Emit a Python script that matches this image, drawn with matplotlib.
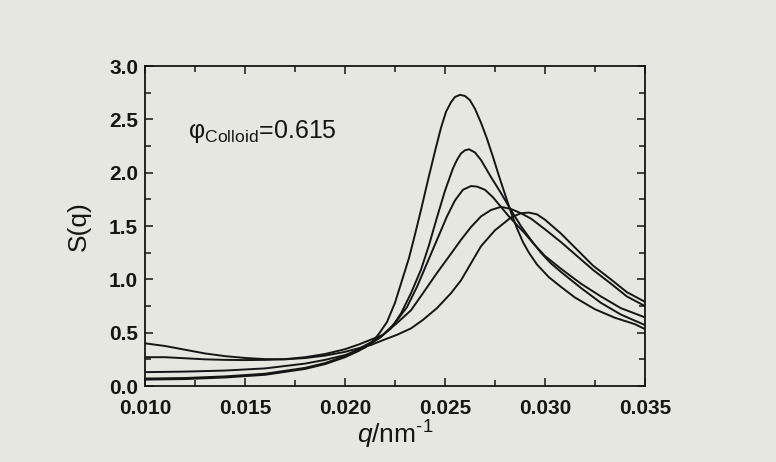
import matplotlib
matplotlib.use('Agg')
import matplotlib.pyplot as plt
from matplotlib.ticker import MultipleLocator

plt.rcParams['font.family'] = ['Liberation Sans', 'DejaVu Sans']
plt.rcParams['mathtext.fontset'] = 'custom'
plt.rcParams['mathtext.rm'] = 'Liberation Sans'
plt.rcParams['mathtext.it'] = 'Liberation Sans:italic'

# curves (q in nm^-1, S(q))
q_a = [0.0100, 0.0120, 0.0140, 0.0160, 0.0180, 0.0190, 0.0200, 0.0207, 0.0213, 0.0217,
       0.0221, 0.0225, 0.0228, 0.0232, 0.0235, 0.0238, 0.02415, 0.0245, 0.0248, 0.02505,
       0.0253, 0.0255, 0.02575, 0.0260, 0.02625, 0.0265, 0.0268, 0.0271, 0.0274, 0.0277,
       0.0280, 0.0283, 0.0286, 0.0289, 0.0292, 0.0296, 0.0302, 0.0308, 0.0315, 0.0325,
       0.0335, 0.0345, 0.0350]
s_a = [0.06, 0.065, 0.08, 0.105, 0.16, 0.205, 0.27, 0.33, 0.40, 0.49,
       0.60, 0.78, 0.96, 1.20, 1.42, 1.65, 1.93, 2.20, 2.42, 2.57,
       2.66, 2.71, 2.73, 2.72, 2.68, 2.60, 2.47, 2.32, 2.15, 1.97,
       1.80, 1.63, 1.48, 1.35, 1.25, 1.14, 1.02, 0.93, 0.83, 0.72,
       0.64, 0.58, 0.534]

q_b = [0.0100, 0.0120, 0.0140, 0.0160, 0.0180, 0.0190, 0.0200, 0.0208, 0.0217, 0.0223,
       0.0228, 0.0233, 0.0238, 0.0242, 0.0246, 0.0250, 0.0254, 0.0256, 0.0258, 0.0260,
       0.0262, 0.0265, 0.0268, 0.0273, 0.0278, 0.0283, 0.0288, 0.0293, 0.0298, 0.0303,
       0.0308, 0.0318, 0.0328, 0.0338, 0.0350]
s_b = [0.07, 0.075, 0.09, 0.115, 0.17, 0.215, 0.28, 0.36, 0.45, 0.54,
       0.68, 0.87, 1.09, 1.32, 1.58, 1.83, 2.04, 2.12, 2.18, 2.21,
       2.22, 2.19, 2.12, 1.96, 1.81, 1.65, 1.50, 1.37, 1.25, 1.15,
       1.07, 0.92, 0.78, 0.67, 0.572]

q_c = [0.0100, 0.0120, 0.0140, 0.0160, 0.0180, 0.0190, 0.0200, 0.0210, 0.0218, 0.0225,
       0.0231, 0.0236, 0.0241, 0.0246, 0.0251, 0.0255, 0.0259, 0.0263, 0.0266, 0.0270,
       0.0274, 0.0278, 0.0282, 0.0286, 0.0290, 0.0295, 0.0300, 0.0308, 0.0318, 0.0328,
       0.0338, 0.0350]
s_c = [0.13, 0.135, 0.145, 0.165, 0.21, 0.245, 0.29, 0.36, 0.46, 0.59,
       0.74, 0.93, 1.15, 1.37, 1.59, 1.74, 1.84, 1.875, 1.87, 1.84,
       1.77, 1.68, 1.59, 1.51, 1.43, 1.32, 1.22, 1.10, 0.96, 0.84,
       0.73, 0.644]

q_d = [0.0100, 0.0110, 0.0120, 0.0130, 0.0140, 0.0150, 0.0160, 0.0170, 0.0180, 0.0190,
       0.0200, 0.0207, 0.0219, 0.0226, 0.0233, 0.0239, 0.0246, 0.0253, 0.0258, 0.0263,
       0.0268, 0.0273, 0.0278, 0.0283, 0.0288, 0.0293, 0.0300, 0.0308, 0.0316, 0.0324,
       0.0333, 0.0341, 0.0350]
s_d = [0.27, 0.27, 0.26, 0.25, 0.245, 0.243, 0.245, 0.252, 0.27, 0.30,
       0.345, 0.39, 0.48, 0.59, 0.71, 0.87, 1.06, 1.24, 1.37, 1.49,
       1.59, 1.65, 1.68, 1.66, 1.62, 1.57, 1.47, 1.35, 1.22, 1.09,
       0.96, 0.84, 0.75]

q_e = [0.0100, 0.0110, 0.0120, 0.0130, 0.0140, 0.0150, 0.0160, 0.0170, 0.0180, 0.0190,
       0.0200, 0.0213, 0.0219, 0.0226, 0.0233, 0.0239, 0.0246, 0.0253, 0.0258, 0.0263,
       0.0268, 0.0275, 0.0283, 0.0288, 0.0292, 0.0296, 0.0300, 0.0308, 0.0316, 0.0324,
       0.0333, 0.0341, 0.0350]
s_e = [0.40, 0.375, 0.34, 0.305, 0.28, 0.263, 0.252, 0.25, 0.262, 0.285,
       0.32, 0.385, 0.43, 0.48, 0.54, 0.62, 0.73, 0.87, 0.99, 1.15,
       1.31, 1.46, 1.58, 1.62, 1.626, 1.61, 1.56, 1.43, 1.28, 1.13,
       1.00, 0.88, 0.79]

bg = '#e7e7e1'
fig = plt.figure(figsize=(7.76, 4.62), dpi=100, facecolor=bg)
ax = fig.add_axes([0.187, 0.1645, 0.644, 0.6925], facecolor=bg)

for q, s in [(q_a, s_a), (q_b, s_b), (q_c, s_c), (q_d, s_d), (q_e, s_e)]:
    ax.plot(q, s, color='#151515', lw=1.4)

ax.set_xlim(0.010, 0.035)
ax.set_ylim(0.0, 3.0)
ax.xaxis.set_major_locator(MultipleLocator(0.005))
ax.xaxis.set_minor_locator(MultipleLocator(0.0025))
ax.yaxis.set_major_locator(MultipleLocator(0.5))
ax.yaxis.set_minor_locator(MultipleLocator(0.25))
ax.xaxis.set_major_formatter(plt.FormatStrFormatter('%.3f'))
ax.yaxis.set_major_formatter(plt.FormatStrFormatter('%.1f'))

ax.tick_params(which='both', direction='in', top=True, right=True, width=1.1, color='#151515')
ax.tick_params(which='major', length=6)
ax.tick_params(which='minor', length=4)
ax.tick_params(axis='x', pad=9)
ax.tick_params(axis='y', pad=5)
for lbl in ax.get_xticklabels() + ax.get_yticklabels():
    lbl.set_fontsize(15)
    lbl.set_fontweight('bold')
    lbl.set_color('#151515')
for sp in ax.spines.values():
    sp.set_linewidth(1.3)
    sp.set_color('#151515')

ax.set_ylabel('S(q)', fontsize=19, color='#151515', labelpad=13)
ax.set_xlabel(r'$q$/nm$^{\text{-1}}$', fontsize=19, color='#151515', labelpad=1)

ax.text(0.01215, 2.33, r'$\mathregular{φ_{Colloid}}$=0.615', fontsize=18,
        color='#151515', va='baseline')

fig.savefig('out.png', dpi=100, facecolor=bg)
